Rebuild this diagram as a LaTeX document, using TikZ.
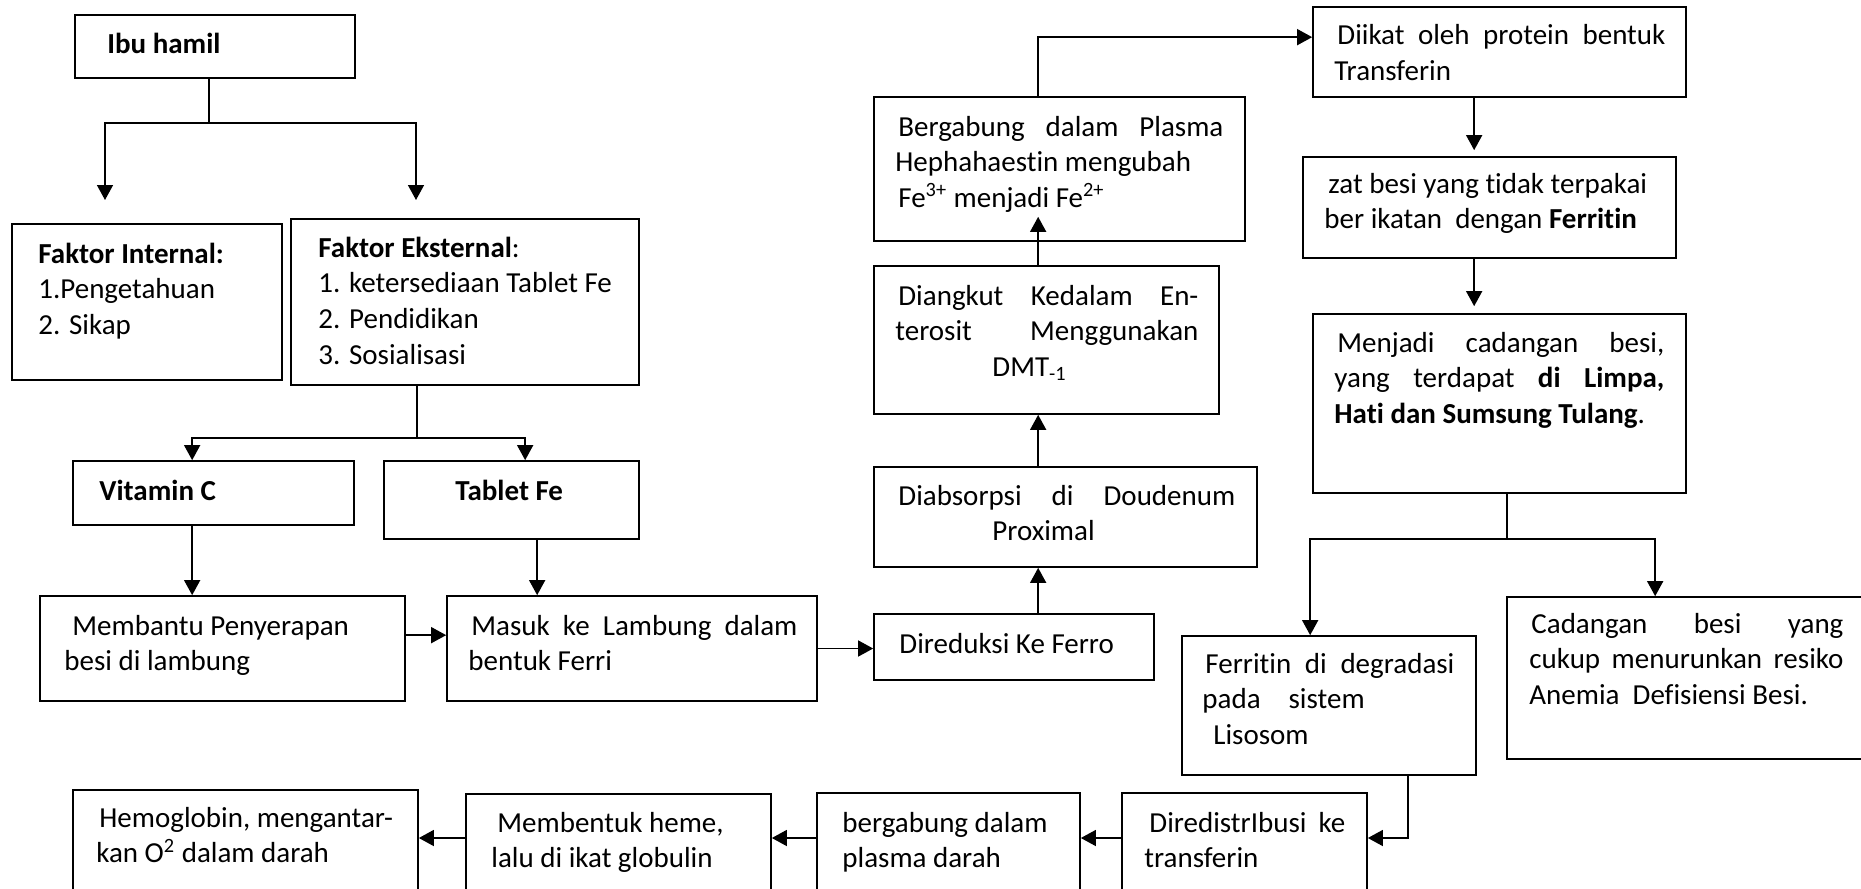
\documentclass[tikz,border=0pt]{standalone}
\usepackage{fontspec}
\setmainfont{Carlito}[Ligatures=NoCommon]
\usetikzlibrary{arrows.meta,fit,calc}
\newcommand\Lines[1]{\begin{tabular}[t]{@{}l@{}}#1\end{tabular}}
\newcommand\JL[2]{\makebox[#1][s]{#2}}
\begin{document}
\begin{tikzpicture}[x=0.5pt,y=-0.5pt,
  box/.style={draw,line width=0.85pt,inner sep=0pt,fit={#1}},
  txt/.style={anchor=base west,inner sep=0pt,font=\fontsize{14.5}{17.85}\selectfont},
  ln/.style={line width=0.75pt},
  arr/.style={ln,-{Triangle[length=7.5pt,width=8pt]}}]
\useasboundingbox (0,0) rectangle (1861,888);
\clip (0,0) rectangle (1861,888);
% boxes
\node[box={(75,15) (355,78)}] (ibu) {};
\node[box={(12,224) (282,380)}] (internal) {};
\node[box={(291,219) (639,385)}] (eksternal) {};
\node[box={(73,461) (354,525)}] (vitc) {};
\node[box={(384,461) (639,539)}] (tablet) {};
\node[box={(40,596) (405,701)}] (membantu) {};
\node[box={(447,596) (817,701)}] (masuk) {};
\node[box={(874,614) (1154,680)}] (direduksi) {};
\node[box={(874,467) (1257,567)}] (diabsorpsi) {};
\node[box={(874,266) (1219,414)}] (diangkut) {};
\node[box={(874,97) (1245,241)}] (plasma) {};
\node[box={(1313,7) (1686,97)}] (diikat) {};
\node[box={(1303,157) (1676,258)}] (zat) {};
\node[box={(1313,314) (1686,493)}] (cadbesi) {};
\node[box={(1182,636) (1476,775)}] (ferritin) {};
\node[box={(1507,597) (1920,759)}] (cukup) {};
\node[box={(73,790) (418,920)}] (hemo) {};
\node[box={(466,794) (771,920)}] (heme) {};
\node[box={(817,793) (1080,920)}] (darah) {};
\node[box={(1122,793) (1367,920)}] (redist) {};
% texts
\node[txt] (t1) at (107,54) {\textbf{Ibu hamil}};
\node[txt] (t2) at (38,263) {\Lines{\textbf{Faktor Internal:}\\1.Pengetahuan\\2. Sikap}};
\node[txt] (t3) at (318,257) {\Lines{\textbf{Faktor Eksternal}:\\1. ketersediaan Tablet Fe\\2. Pendidikan\\3. Sosialisasi}};
\node[txt] (t4) at (99,500) {\textbf{Vitamin C}};
\node[txt] (t5) at (455,500) {\textbf{Tablet Fe}};
\node[txt] (t6) at (64,635) {\Lines{\hspace{4pt}Membantu Penyerapan\\besi di lambung}};
\node[txt] (t7) at (468,635) {\Lines{\hspace{1.5pt}\JL{163pt}{Masuk ke Lambung dalam}\\bentuk Ferri}};
\node[txt] (t8) at (899,653) {Direduksi Ke Ferro};
\node[txt] (t9) at (898,505) {\Lines{\JL{168.5pt}{Diabsorpsi di Doudenum}\\\hspace{47pt}Proximal}};
\node[txt] (t10) at (895,305) {\Lines{\hspace{1.5pt}\JL{150pt}{Diangkut Kedalam En-}\\\JL{151.5pt}{terosit Menggunakan}\\\hspace{48.5pt}DMT\textsubscript{-1}}};
\node[txt] (t11) at (895,136) {\Lines{\hspace{1.5pt}\JL{162.5pt}{Bergabung dalam Plasma}\\Hephahaestin mengubah\\\hspace{1.5pt}Fe\textsuperscript{3+} menjadi Fe\textsuperscript{2+}}};
\node[txt] (t12) at (1334,45) {\Lines{\hspace{1.5pt}\JL{164pt}{Diikat oleh protein bentuk}\\Transferin}};
\node[txt] (t13) at (1324,193) {\Lines{\hspace{2pt}zat besi yang tidak terpakai\\ber ikatan\ \ dengan \textbf{Ferritin}}};
\node[txt] (t14) at (1334,352) {\Lines{\hspace{1.5pt}\JL{163.5pt}{Menjadi cadangan besi,}\\\JL{165pt}{yang terdapat \textbf{di Limpa,}}\\\textbf{Hati dan Sumsung Tulang}.}};
\node[txt] (t15) at (1202,673) {\Lines{\hspace{1.5pt}\JL{124.5pt}{Ferritin di degradasi}\\pada\hspace{14pt}sistem\\\hspace{5.5pt}Lisosom}};
\node[txt] (t16) at (1529,633) {\Lines{\hspace{1pt}\JL{156pt}{Cadangan besi yang}\\\JL{157pt}{cukup menurunkan resiko}\\Anemia\ \ Defisiensi Besi.}};
\node[txt] (t17) at (96,827) {\Lines{\hspace{1.5pt}Hemoglobin, mengantar-\\kan O\textsuperscript{2} dalam darah}};
\node[txt] (t18) at (491,832) {\Lines{\hspace{3pt}Membentuk heme,\\lalu di ikat globulin}};
\node[txt] (t19) at (842,832) {\Lines{bergabung dalam\\plasma darah}};
\node[txt] (t20) at (1144,832) {\Lines{\hspace{2.5pt}\JL{98pt}{DiredistrIbusi ke}\\transferin}};
% connectors
\coordinate (j1) at (209,123);
\coordinate (a1) at (105,200);
\coordinate (a2) at (416,200);
\draw[ln] (ibu.south -| j1) -- (j1);
\draw[arr] (j1) -| (a1);
\draw[arr] (j1) -| (a2);
\coordinate (j2) at (417,438);
\draw[ln] (eksternal.south -| j2) -- (j2);
\draw[arr] (j2) -| ($(vitc.north west)+(120,0)$);
\draw[arr] (j2) -| ($(tablet.north west)+(142,0)$);
\coordinate (cv) at ($(vitc.south west)+(120,0)$);
\draw[arr] (cv) -- (cv |- membantu.north);
\coordinate (ct) at ($(tablet.south west)+(154,0)$);
\draw[arr] (ct) -- (ct |- masuk.north);
\coordinate (cm) at ($(membantu.north east)+(0,40)$);
\draw[arr] (cm) -- (cm -| masuk.west);
\draw[arr] (masuk.east) -- (masuk.east -| direduksi.west);
\coordinate (c1) at ($(direduksi.north west)+(165,0)$);
\draw[arr] (c1) -- (c1 |- diabsorpsi.south);
\draw[arr] (c1 |- diabsorpsi.north) -- (c1 |- diangkut.south);
\draw[arr] (c1 |- diangkut.north) -- ($(c1 |- plasma.south)+(0,-25)$);
\coordinate (tp) at ($(diikat.north west)+(0,31)$);
\draw[arr] (c1 |- plasma.north) |- (tp);
\coordinate (c2) at ($(diikat.south west)+(162,0)$);
\draw[arr] (c2) -- ($(c2 |- zat.north)+(0,-6)$);
\draw[arr] (c2 |- zat.south) -- ($(c2 |- cadbesi.north)+(0,-7)$);
\coordinate (j3) at (1507,539);
\draw[ln] (cadbesi.south -| j3) -- (j3);
\draw[arr] (j3) -| ($(ferritin.north west)+(129,0)$);
\draw[arr] (j3) -| ($(cukup.north west)+(149,0)$);
\coordinate (c3) at ($(ferritin.south west)+(227,0)$);
\coordinate (r) at (0,838);
\draw[arr] (c3) |- (redist.east |- r);
\draw[arr] (redist.west |- r) -- (darah.east |- r);
\draw[arr] (darah.west |- r) -- (heme.east |- r);
\draw[arr] (heme.west |- r) -- (hemo.east |- r);
\end{tikzpicture}
\end{document}
